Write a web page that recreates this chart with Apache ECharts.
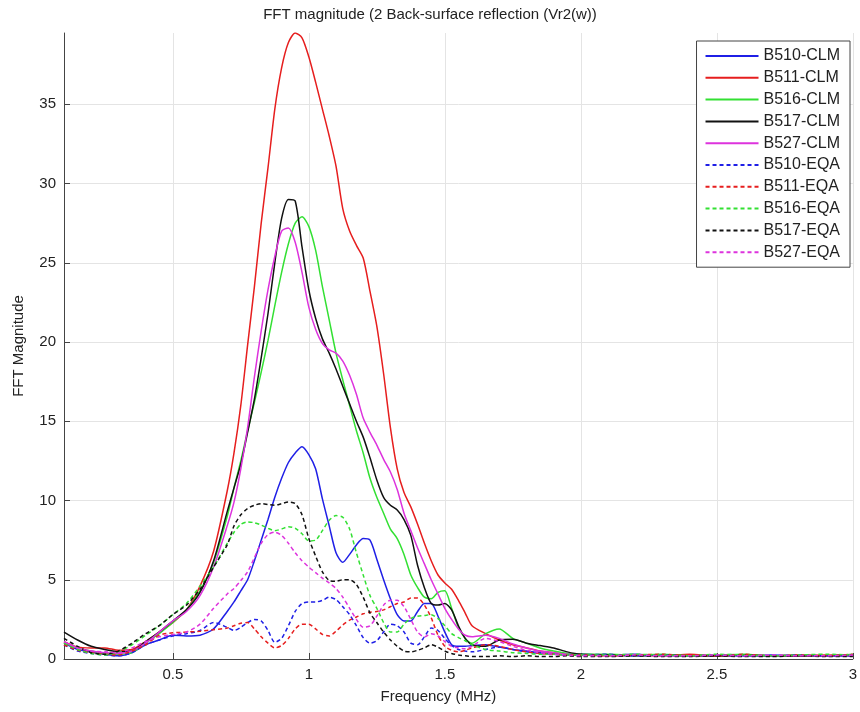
<!DOCTYPE html>
<html><head><meta charset="utf-8">
<script src="https://cdn.jsdelivr.net/npm/echarts@6/dist/echarts.min.js"></script>
<style>html,body{margin:0;padding:0;background:#fff}#c{width:860px;height:712px}</style>
</head><body><div id="c"></div>
<script>
const freq = [0.10,0.15,0.20,0.25,0.30,0.35,0.40,0.45,0.50,0.55,0.60,0.65,0.70,
0.725,0.75,0.775,0.80,0.825,0.85,0.875,0.90,0.925,0.95,0.975,1.00,1.025,1.05,1.075,1.10,1.125,1.15,1.175,1.20,1.225,1.25,1.275,1.30,1.325,1.35,1.375,1.40,1.425,1.45,1.475,1.50,1.525,1.55,1.575,1.60,
1.65,1.70,1.75,1.80,1.85,1.90,1.95,2.00,
2.10,2.20,2.30,2.40,2.50,2.60,2.70,2.80,2.90,3.00];
const xTicks = [0.5,1,1.5,2,2.5,3];
const yTicks = [0,5,10,15,20,25,30,35];
const seriesNames = ['B510-CLM','B511-CLM','B516-CLM','B517-CLM','B527-CLM','B510-EQA','B511-EQA','B516-EQA','B517-EQA','B527-EQA'];

const B510_CLM = [1.0,0.6,0.45,0.3,0.2,0.4,0.9,1.2,1.5,1.45,1.5,1.9,3.0,
3.6,4.3,5.0,6.2,7.5,8.8,10.2,11.4,12.4,13.0,13.4,12.9,12.0,10.1,8.4,6.7,6.1,6.6,7.2,7.6,7.5,6.3,5.0,3.8,2.8,2.4,2.4,3.0,3.5,3.5,2.7,1.7,0.9,0.8,0.8,0.85,
0.9,0.75,0.6,0.5,0.4,0.35,0.3,0.3,
0.25,0.3,0.2,0.25,0.2,0.2,0.25,0.2,0.2,0.2];
const B511_CLM = [1.1,0.75,0.7,0.7,0.55,0.6,1.1,1.7,2.3,3.1,4.6,6.8,10.6,
13.0,16.0,19.8,23.5,27.5,31.0,34.7,37.3,38.9,39.5,39.2,38.0,36.4,34.7,33.0,31.1,28.4,27.0,26.1,25.3,23.2,21.0,18.0,14.6,12.0,10.5,9.6,8.5,7.3,6.2,5.3,4.8,4.4,3.7,2.9,2.1,
1.6,1.2,0.9,0.7,0.5,0.4,0.3,0.25,
0.2,0.25,0.2,0.3,0.2,0.25,0.2,0.2,0.25,0.2];
const B516_CLM = [1.0,0.7,0.5,0.35,0.3,0.4,1.0,1.6,2.3,3.1,4.3,6.1,9.0,
10.8,12.5,14.4,16.2,18.1,20.1,22.3,24.4,26.2,27.5,27.9,27.3,25.8,23.5,21.4,19.3,17.6,16.0,14.4,13.0,11.4,10.2,9.2,8.2,7.6,6.6,5.3,4.5,3.9,3.8,4.2,4.3,3.2,2.0,1.3,1.0,
1.6,1.9,1.3,1.0,0.7,0.5,0.35,0.3,
0.3,0.25,0.3,0.2,0.25,0.3,0.2,0.25,0.2,0.3];
const B517_CLM = [1.7,1.2,0.8,0.6,0.45,0.5,1.1,1.7,2.4,3.1,4.2,6.2,9.3,
10.8,12.3,14.3,16.4,19.0,21.8,25.0,27.8,29.0,28.9,26.0,23.3,21.5,20.2,19.3,18.3,17.2,16.1,15.0,14.0,12.7,11.3,10.2,9.7,9.4,8.8,7.8,5.9,4.5,3.5,3.4,3.5,3.1,2.1,1.3,0.9,
0.8,1.2,1.25,1.0,0.85,0.7,0.45,0.3,
0.25,0.2,0.25,0.2,0.2,0.25,0.2,0.2,0.2,0.25];
const B527_CLM = [1.1,0.7,0.5,0.4,0.35,0.5,1.0,1.7,2.4,3.0,4.0,5.8,8.4,
9.9,12.0,14.6,17.8,20.7,23.3,25.4,27.0,27.2,26.3,24.4,22.2,20.8,19.9,19.5,19.3,18.8,17.9,16.7,15.2,14.3,13.5,12.6,11.8,10.7,9.2,8.1,7.0,6.0,5.0,4.1,3.2,2.5,1.9,1.5,1.4,
1.5,1.3,0.95,0.7,0.5,0.4,0.3,0.25,
0.2,0.25,0.2,0.2,0.25,0.2,0.2,0.25,0.2,0.2];
const B510_EQA = [0.9,0.5,0.35,0.25,0.2,0.4,0.9,1.2,1.45,1.6,1.8,2.3,2.0,
1.8,2.0,2.3,2.5,2.4,1.8,1.05,1.3,2.1,3.0,3.5,3.6,3.6,3.7,3.9,3.75,3.3,2.8,2.1,1.35,1.0,1.15,1.7,2.2,2.1,1.7,1.0,0.9,1.4,1.95,1.8,1.3,0.85,0.6,0.5,0.45,
0.6,0.75,0.6,0.45,0.35,0.3,0.25,0.25,
0.3,0.2,0.25,0.2,0.25,0.2,0.2,0.25,0.2,0.2];
const B511_EQA = [0.9,0.55,0.4,0.3,0.25,0.5,0.9,1.5,1.65,1.7,1.75,1.85,1.95,
2.1,2.25,2.3,1.9,1.4,1.0,0.7,0.85,1.3,1.9,2.2,2.2,1.9,1.55,1.45,1.75,2.15,2.45,2.65,2.85,2.95,3.0,3.1,3.3,3.5,3.6,3.85,3.85,3.4,2.6,1.5,0.8,0.55,0.45,0.55,0.7,
0.9,0.8,0.6,0.45,0.35,0.3,0.25,0.25,
0.2,0.25,0.3,0.2,0.2,0.3,0.2,0.25,0.2,0.3];
const B516_EQA = [1.0,0.6,0.35,0.25,0.45,0.9,1.5,2.1,2.8,3.5,4.6,5.8,7.3,
8.0,8.5,8.65,8.6,8.45,8.25,8.1,8.2,8.35,8.25,7.9,7.45,7.5,8.1,8.75,9.05,8.95,8.2,6.7,5.3,4.0,3.2,2.3,1.7,1.7,2.2,2.55,2.7,2.75,2.8,2.55,2.1,1.6,1.35,1.15,0.9,
0.6,0.5,0.4,0.35,0.3,0.3,0.25,0.25,
0.25,0.3,0.25,0.2,0.3,0.25,0.2,0.25,0.3,0.25];
const B517_EQA = [1.3,0.8,0.4,0.3,0.5,1.0,1.6,2.1,2.8,3.4,4.4,5.8,7.2,
8.4,9.1,9.5,9.7,9.8,9.75,9.7,9.8,9.9,9.8,9.1,7.6,6.5,5.5,4.95,4.9,5.0,5.0,4.7,3.9,2.9,2.3,1.7,1.2,0.8,0.5,0.45,0.55,0.7,0.9,0.75,0.5,0.35,0.25,0.2,0.15,
0.15,0.2,0.15,0.2,0.15,0.15,0.2,0.15,
0.15,0.2,0.15,0.15,0.2,0.15,0.15,0.2,0.15,0.15];
const B527_EQA = [1.1,0.7,0.5,0.45,0.4,0.7,1.1,1.4,1.55,1.7,2.2,3.2,4.1,
4.45,4.95,5.5,6.4,7.3,7.85,8.0,7.8,7.3,6.7,6.2,5.8,5.45,5.1,4.8,4.45,3.9,3.2,2.5,2.0,2.1,2.7,3.4,3.7,3.7,3.3,2.5,1.7,1.4,1.6,1.45,1.1,0.8,0.7,0.65,0.8,
1.3,1.1,0.8,0.55,0.4,0.3,0.25,0.2,
0.2,0.25,0.2,0.2,0.25,0.2,0.25,0.2,0.2,0.25];

const seriesValues = [B510_CLM,B511_CLM,B516_CLM,B517_CLM,B527_CLM,B510_EQA,B511_EQA,B516_EQA,B517_EQA,B527_EQA];
const colors = ['#1f1fe6','#e61e1e','#33e033','#111111','#dd33dd','#1f1fe6','#e61e1e','#33e033','#111111','#dd33dd'];

const FONT = 'Liberation Sans, Arial, sans-serif';
const series = seriesNames.map((name, i) => ({
  name: name,
  type: 'line',
  data: freq.map((f, k) => [f, seriesValues[i][k]]),
  showSymbol: false,
  symbol: 'none',
  smooth: 0.25,
  clip: true,
  lineStyle: { color: colors[i], width: 1.5, type: i < 5 ? 'solid' : [4, 3] },
  itemStyle: { color: colors[i] },
  emphasis: { disabled: true },
  animation: false
}));

const chart = echarts.init(document.getElementById('c'), null, { renderer: 'canvas' });
chart.setOption({
  backgroundColor: '#fff',
  animation: false,
  color: colors,
  title: {
    text: 'FFT magnitude (2 Back-surface reflection (Vr2(w))',
    left: 'center', top: 2,
    textStyle: { fontFamily: FONT, fontSize: 15, fontWeight: 'normal', color: '#222' }
  },
  grid: { left: 64, right: 1.5, top: 33, bottom: 53, containLabel: false },
  legend: {
    orient: 'vertical',
    right: 10, top: 41,
    data: seriesNames,
    itemWidth: 53, itemHeight: 14, itemGap: 5.8,
    padding: [7, 10, 7, 8],
    backgroundColor: '#fff',
    borderColor: '#444', borderWidth: 1, borderRadius: 0,
    itemStyle: { opacity: 0 },
    textStyle: { fontFamily: FONT, fontSize: 16, color: '#222', lineHeight: 16 },
    selectedMode: false
  },
  xAxis: {
    type: 'value', min: 0.1, max: 3,
    name: 'Frequency (MHz)', nameLocation: 'middle', nameGap: 30,
    nameTextStyle: { fontFamily: FONT, fontSize: 15, color: '#222', padding: [0, 40, 0, 0] },
    axisLine: { show: true, onZero: false, lineStyle: { color: '#444', width: 1 } },
    axisTick: { show: true, inside: true, length: 6, customValues: xTicks, lineStyle: { color: '#444' } },
    axisLabel: { customValues: xTicks, fontFamily: FONT, fontSize: 15, color: '#222', margin: 8 },
    splitLine: { show: true, lineStyle: { color: '#e4e4e4', width: 1 } }
  },
  yAxis: {
    type: 'value', min: 0, max: 39.5,
    name: 'FFT Magnitude', nameLocation: 'middle', nameGap: 38,
    nameTextStyle: { fontFamily: FONT, fontSize: 15, color: '#222' },
    axisLine: { show: true, lineStyle: { color: '#444', width: 1 } },
    axisTick: { show: true, inside: true, length: 6, customValues: yTicks, lineStyle: { color: '#444' } },
    axisLabel: { customValues: yTicks, fontFamily: FONT, fontSize: 15, color: '#222', margin: 8 },
    splitLine: { show: true, lineStyle: { color: '#e4e4e4', width: 1 } }
  },
  series: series
});
</script>
</body></html>
